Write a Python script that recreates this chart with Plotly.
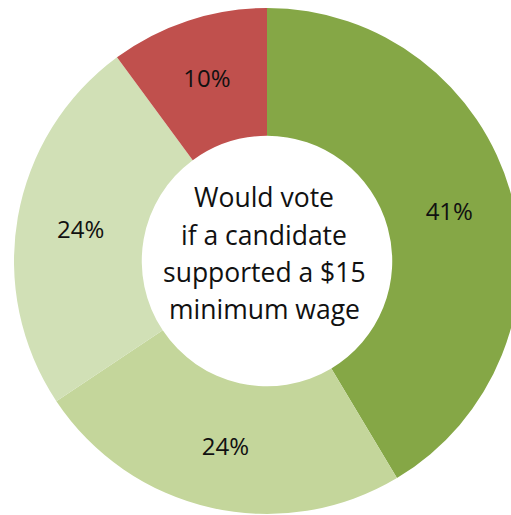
import plotly.graph_objects as go

labels = ["Group A", "Group B", "Group C", "Group D"]
values = [41, 24, 24, 10]
text_labels = ["41%", "24%", "24%", "10%"]
colors = ["#85A746", "#C4D69B", "#D1E0B6", "#C0504D"]
center_lines = ["Would vote", "if a candidate", "supported a $15", "minimum wage"]

W, H = 540, 515
cx, cy, r = 267, 261, 253

fig = go.Figure(go.Pie(
    labels=labels,
    values=values,
    text=text_labels,
    textinfo="text",
    textposition="inside",
    insidetextorientation="horizontal",
    sort=False,
    direction="clockwise",
    rotation=0,
    hole=0.495,
    marker=dict(colors=colors, line=dict(width=0)),
    textfont=dict(family="Open Sans", size=24, color="#111111"),
    domain=dict(x=[(cx - r) / W, (cx + r) / W], y=[1 - (cy + r) / H, 1 - (cy - r) / H]),
    showlegend=False,
    hoverinfo="skip",
))

line_y = [194, 231.5, 269, 306]
for txt, yy in zip(center_lines, line_y):
    fig.add_annotation(
        text=txt,
        x=264 / W, y=1 - (yy + 3) / H, xref="paper", yref="paper",
        showarrow=False, xanchor="center", yanchor="middle",
        font=dict(family="Open Sans", size=26.5, color="#111111"),
        align="center",
    )

fig.update_layout(
    width=W, height=H,
    margin=dict(l=0, r=0, t=0, b=0),
    paper_bgcolor="white", plot_bgcolor="white",
)

fig.write_html(
    "out.html",
    config={"displayModeBar": False},
    post_script="document.body.style.margin='0';document.body.style.overflow='hidden';",
)
